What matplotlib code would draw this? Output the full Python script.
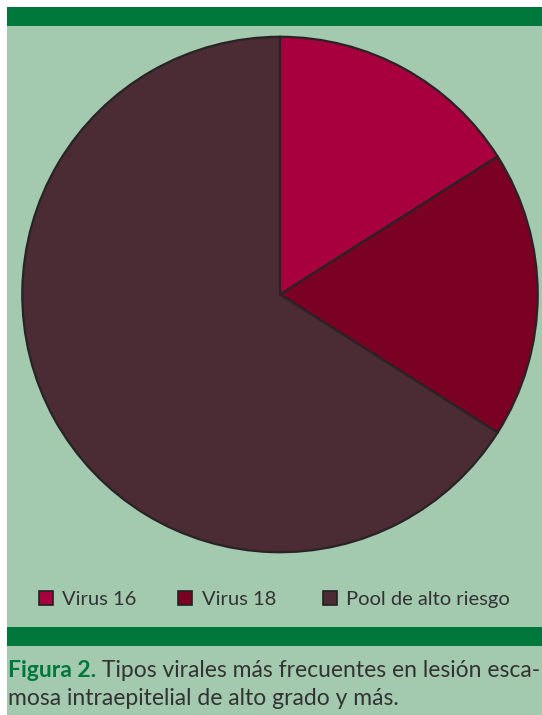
import matplotlib
matplotlib.use('Agg')
import matplotlib.pyplot as plt
from matplotlib.patches import Rectangle

# data
labels = ['Virus 16', 'Virus 18', 'Pool de alto riesgo']
values = [16, 18, 66]
colors = ['#A8003F', '#7A0024', '#4B2B34']

caption_bold = 'Figura 2.'
caption_line1 = ' Tipos virales más frecuentes en lesión esca-'
caption_line2 = 'mosa intraepitelial de alto grado y más.'

GREEN = '#00783B'
PALE = '#A3C9AF'
TEXT = '#333333'
EDGE = '#2a2326'

plt.rcParams['font.family'] = ['Lato', 'DejaVu Sans']

W, H = 542, 715
fig = plt.figure(figsize=(W / 100, H / 100), dpi=100)
fig.patch.set_facecolor('white')

# background axes in pixel coordinates
bg = fig.add_axes([0, 0, 1, 1])
bg.set_xlim(0, W)
bg.set_ylim(H, 0)
bg.axis('off')

bg.add_patch(Rectangle((7, 7), W - 7, 19, color=GREEN, lw=0))
bg.add_patch(Rectangle((7, 26), W - 7, 601, color=PALE, lw=0))
bg.add_patch(Rectangle((7, 627), W - 7, 19, color=GREEN, lw=0))
bg.add_patch(Rectangle((7, 646), W - 7, 69, color=PALE, lw=0))

# pie
cx, cy, r = 280, 294.5, 259
ax = fig.add_axes([(cx - r) / W, (H - cy - r) / H, 2 * r / W, 2 * r / H])
ax.pie(values, colors=colors, startangle=90, counterclock=False,
       wedgeprops=dict(edgecolor=EDGE, linewidth=1.6))
ax.set_xlim(-1.005, 1.005)
ax.set_ylim(-1.005, 1.005)
ax.axis('off')

# legend (manual)
marker_x = [39, 178, 323]
for x, lab, c in zip(marker_x, labels, colors):
    bg.add_patch(Rectangle((x, 591), 13.5, 13.5, facecolor=c, edgecolor='#222222', lw=1.2))
    bg.text(x + 23.5, 605, lab, fontsize=14.5, color=TEXT, va='baseline', ha='left')

# caption
t1 = bg.text(8, 677, caption_bold, fontsize=16.5, color=GREEN, fontweight='bold',
             va='baseline', ha='left')
bg.annotate(caption_line1, xy=(1, 0), xycoords=t1, va='bottom', ha='left',
            fontsize=16.5, color=TEXT)
bg.text(8, 705, caption_line2, fontsize=16.5, color=TEXT, va='baseline', ha='left')

fig.savefig('out.png', dpi=100)
